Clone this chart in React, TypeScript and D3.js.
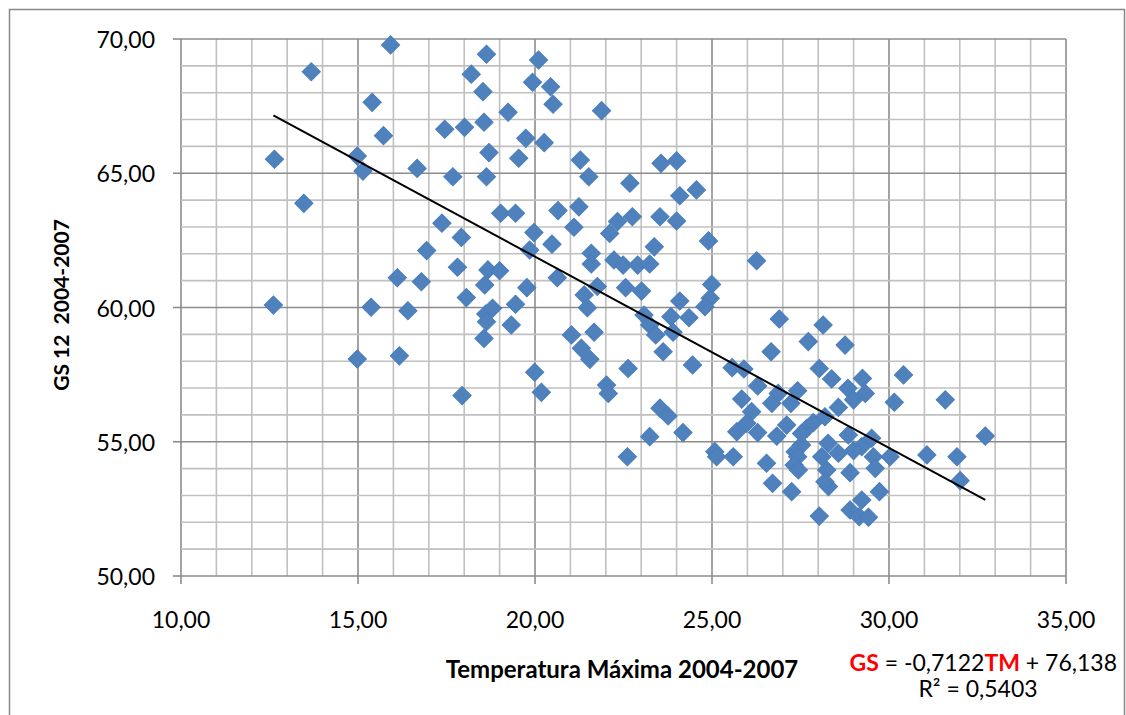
import React from 'react';
import * as d3 from 'd3';

// Temperatura Máxima (x) vs GS 12 (y), 2004-2007
const tempMax = [
  12.64, 13.47, 13.68, 15.92, 15.40, 15.72, 14.98, 15.14, 16.11, 12.61,
  15.37, 16.41, 14.98, 16.17, 16.67, 18.63, 18.20, 18.53, 19.24, 20.10,
  19.93, 20.44, 20.51, 21.88, 17.45, 18.01, 18.56, 19.74, 20.26, 18.70,
  19.54, 21.28, 17.68, 18.63, 21.52, 22.68, 23.56, 24.00, 24.09, 24.56,
  19.03, 19.45, 20.65, 21.24, 17.37, 17.92, 19.97, 21.10, 20.48, 19.85,
  22.33, 22.11, 22.75, 23.53, 24.00, 24.90, 23.37, 16.94, 17.81, 21.59,
  21.59, 22.23, 22.49, 22.90, 23.24, 16.79, 18.67, 19.00, 18.58, 18.06,
  19.77, 20.63, 21.39, 21.76, 21.48, 19.45, 22.56, 23.01, 24.09, 24.99,
  24.95, 24.80, 18.61, 18.80, 18.63, 23.84, 24.35, 23.08, 18.56, 19.33,
  17.94, 19.99, 20.18, 21.03, 21.67, 21.31, 21.55, 22.63, 22.02, 22.07,
  23.24, 23.41, 23.90, 23.62, 24.45, 23.53, 23.76, 23.24, 24.18, 22.61,
  25.08, 25.13, 26.90, 28.14, 27.72, 28.76, 26.67, 25.57, 25.90, 28.03,
  28.38, 29.25, 30.41, 31.59, 30.15, 28.84, 29.33, 29.00, 28.57, 26.29,
  25.84, 26.87, 27.42, 27.23, 26.69, 26.12, 25.98, 25.70, 26.29, 26.83,
  27.11, 27.68, 27.86, 28.19, 27.53, 27.35, 28.28, 28.85, 29.51, 29.23,
  29.00, 28.57, 28.10, 27.42, 27.32, 29.56, 29.61, 30.03, 25.60, 31.07,
  31.92, 32.72, 32.01, 26.54, 27.44, 28.24, 28.90, 26.71, 27.25, 28.29,
  29.73, 29.23, 28.90, 29.16, 29.42, 28.03, 28.19, 27.53, 26.26,
];

const gs12 = [
  65.52, 63.88, 68.78, 69.78, 67.64, 66.40, 65.64, 65.08, 61.11, 60.09,
  60.01, 59.88, 58.08, 58.20, 65.18, 69.43, 68.69, 68.04, 67.27, 69.22,
  68.39, 68.22, 67.57, 67.33, 66.64, 66.71, 66.90, 66.30, 66.14, 65.77,
  65.56, 65.49, 64.87, 64.87, 64.87, 64.63, 65.37, 65.46, 64.16, 64.38,
  63.51, 63.51, 63.61, 63.75, 63.14, 62.61, 62.79, 62.99, 62.36, 62.14,
  63.20, 62.76, 63.38, 63.38, 63.22, 62.48, 62.26, 62.12, 61.50, 62.02,
  61.62, 61.77, 61.58, 61.58, 61.62, 60.96, 61.40, 61.37, 60.84, 60.37,
  60.74, 61.11, 60.47, 60.78, 59.99, 60.12, 60.74, 60.61, 60.24, 60.86,
  60.34, 60.03, 59.76, 59.97, 59.47, 59.66, 59.62, 59.72, 58.85, 59.35,
  56.72, 57.59, 56.84, 58.98, 59.08, 58.48, 58.07, 57.73, 57.11, 56.80,
  59.35, 58.98, 59.08, 58.35, 57.86, 56.25, 55.96, 55.19, 55.34, 54.44,
  54.63, 54.44, 59.57, 59.35, 58.73, 58.60, 58.35, 57.76, 57.71, 57.73,
  57.34, 57.36, 57.49, 56.56, 56.47, 56.99, 56.80, 56.56, 56.28, 57.08,
  56.59, 56.80, 56.90, 56.43, 56.43, 56.12, 55.69, 55.37, 55.34, 55.21,
  55.62, 55.50, 55.71, 55.93, 54.88, 54.63, 54.94, 55.25, 55.13, 54.82,
  54.67, 54.57, 54.44, 54.44, 54.13, 54.44, 54.01, 54.44, 54.44, 54.51,
  54.44, 55.21, 53.55, 54.20, 53.95, 53.95, 53.85, 53.45, 53.14, 53.33,
  53.14, 52.83, 52.46, 52.21, 52.19, 52.23, 53.51, 55.31, 61.74,
];

const xTicks = [10, 15, 20, 25, 30, 35];
const yTicks = [50, 55, 60, 65, 70];

// linear trend shown on the chart
const slope = -0.7122;
const intercept = 76.138;
const rSquared = '0,5403';

const W = 1126;
const H = 715;
const margin = { left: 181, top: 39, right: 1066, bottom: 576 };
const font = 'Lato, "Open Sans", sans-serif';

export default function App() {
  const x = d3.scaleLinear().domain([10, 35]).range([margin.left, margin.right]);
  const y = d3.scaleLinear().domain([50, 70]).range([margin.bottom, margin.top]);
  const fmt = (v: number) => d3.format('.2f')(v).replace('.', ',');

  const xMinor = d3.range(10, 36, 1);
  const yMinor = d3.range(50, 71, 1);

  const diamond = d3.symbol().type(d3.symbolSquare).size(166)() as string;

  const [x0, x1] = d3.extent(tempMax) as [number, number];
  const trend = d3.line()([
    [x(x0), y(slope * x0 + intercept)],
    [x(x1), y(slope * x1 + intercept)],
  ]) as string;

  return (
    <div style={{ position: 'absolute', left: 0, top: 0 }}>
      <svg width={W} height={H} style={{ display: 'block', background: '#fff' }}>
        {/* outer frame */}
        <rect x={9.5} y={9.5} width={1115} height={720} fill="none" stroke="#888" strokeWidth={1.5} />

        {/* grid, darker every 5 */}
        {xMinor.map((v) => (
          <line key={'xm' + v} x1={x(v)} x2={x(v)} y1={margin.top} y2={margin.bottom}
            stroke={v % 5 === 0 ? '#8c8c8c' : '#c0c0c0'} strokeWidth={1.6} />
        ))}
        {yMinor.map((v) => (
          <line key={'ym' + v} x1={margin.left} x2={margin.right} y1={y(v)} y2={y(v)}
            stroke={v % 5 === 0 ? '#8c8c8c' : '#c0c0c0'} strokeWidth={1.6} />
        ))}

        {/* tick marks */}
        {yTicks.map((v) => (
          <line key={'yt' + v} x1={margin.left - 8} x2={margin.left} y1={y(v)} y2={y(v)} stroke="#8c8c8c" strokeWidth={1.6} />
        ))}
        {xTicks.map((v) => (
          <line key={'xt' + v} x1={x(v)} x2={x(v)} y1={margin.bottom} y2={margin.bottom + 8} stroke="#8c8c8c" strokeWidth={1.6} />
        ))}

        {/* tick labels */}
        <g fontFamily={font} fontSize={23} fill="#000">
          {yTicks.map((v) => (
            <text key={'yl' + v} x={155} y={y(v)} textAnchor="end" dominantBaseline="central">{fmt(v)}</text>
          ))}
          {xTicks.map((v) => (
            <text key={'xl' + v} x={x(v)} y={619} textAnchor="middle" dominantBaseline="central">{fmt(v)}</text>
          ))}
        </g>

        {/* points */}
        {tempMax.map((t, i) => (
          <path key={'p' + i} d={diamond}
            transform={`translate(${x(t)},${y(gs12[i])}) rotate(45)`}
            fill="#4F81BD" stroke="#4A7EBB" strokeWidth={1} />
        ))}

        {/* trend line */}
        <path d={trend} fill="none" stroke="#000" strokeWidth={2} />

        {/* axis titles */}
        <text x={622} y={668} textAnchor="middle" dominantBaseline="central"
          fontFamily={font} fontWeight="bold" fontSize={24}>Temperatura Máxima 2004-2007</text>
        <text transform="translate(60,305) rotate(-90)" textAnchor="middle" dominantBaseline="central"
          fontFamily={font} fontWeight="bold" fontSize={21} style={{ whiteSpace: 'pre' }}>GS 12  2004-2007</text>

        {/* equation */}
        <text x={1117} y={662} textAnchor="end" dominantBaseline="central" fontFamily={font} fontSize={23}>
          <tspan fill="#ff0000" fontWeight="bold">GS</tspan>
          <tspan> = -0,7122</tspan>
          <tspan fill="#ff0000" fontWeight="bold">TM</tspan>
          <tspan> + 76,138</tspan>
        </text>
        <text x={978} y={688} textAnchor="middle" dominantBaseline="central" fontFamily={font} fontSize={23}>
          R² = {rSquared}
        </text>
      </svg>
    </div>
  );
}
